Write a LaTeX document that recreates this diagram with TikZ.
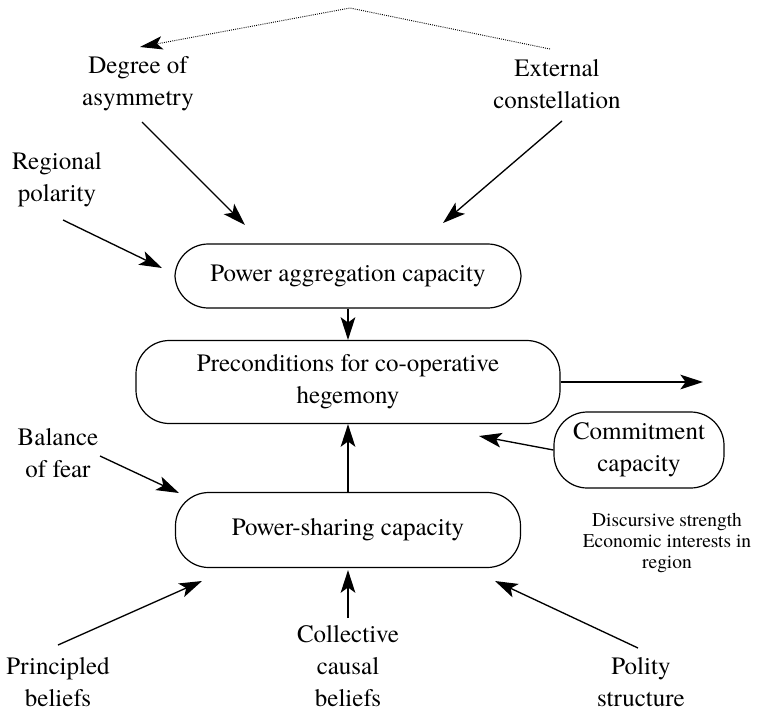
\documentclass[tikz,border=0pt]{standalone}
\usepackage{fontspec}
\setmainfont{texgyretermes-regular.otf}
\usetikzlibrary{arrows.meta}
\newcommand{\bigtxt}{\fontsize{18.75pt}{24pt}\selectfont}
\newcommand{\smalltxt}{\fontsize{14.6pt}{15.75pt}\selectfont}
\tikzset{
	capbox/.style={draw, line width=0.9pt, rounded corners=25pt, align=center, inner sep=0pt, font=\bigtxt},
	factor/.style={align=center, inner sep=0pt, font=\bigtxt},
	arr/.style={line width=1pt, -{Stealth[length=17pt,width=11pt,inset=4pt]}},
	dotarr/.style={line width=0.7pt, dash pattern=on 0.7pt off 0.9pt, -{Stealth[length=17pt,width=10pt,inset=4pt]}}
}
\begin{document}
\begin{tikzpicture}[x=0.75pt, y=-0.75pt]
		%%%%% START %%%%%
		\useasboundingbox (0, 0) rectangle (761, 711);
		
		% boxes
		\node[capbox, minimum width=259.5pt, minimum height=48pt] (aggr) at (348, 276) {Power aggregation capacity};
		\node[capbox, minimum width=318pt, minimum height=62.25pt] (precond) at (348, 382) {Preconditions for co-operative\\hegemony};
		\node[capbox, minimum width=258.75pt, minimum height=56.25pt] (sharing) at (348, 530) {Power-sharing capacity};
		\node[capbox, minimum width=127.5pt, minimum height=57pt] (commit) at (639, 450) {Commitment\\capacity};
		
		% factors
		\node[factor] (degree) at (138, 84) {Degree of\\asymmetry};
		\node[factor] (external) at (557, 84) {External\\constellation};
		\node[factor] (regional) at (57, 180) {Regional\\polarity};
		\node[factor] (balance) at (58, 453) {Balance\\of fear};
		\node[factor] (principled) at (58, 682) {Principled\\beliefs};
		\node[factor] (collective) at (348, 666) {Collective\\causal\\beliefs};
		\node[factor] (polity) at (641, 682) {Polity\\structure};
		\node[align=center, inner sep=0pt, font=\smalltxt] (discursive) at (667, 543) {Discursive strength\\Economic interests in\\region};
		
		\coordinate (apex) at (350, 8);
		\coordinate (exit) at (703, 382);
		
		% dotted link on top
		\draw[dotarr] ([shift={(-7,-35)}]external.center) -- (apex) -- ([shift={(2,-37)}]degree.center);
		
		% into power aggregation
		\draw[arr] ([shift={(4,38)}]degree.center) -- ([shift={(-103,-51)}]aggr.center);
		\draw[arr] ([shift={(5,37)}]external.center) -- ([shift={(95,-53)}]aggr.center);
		\draw[arr] ([shift={(6,40)}]regional.center) -- ([shift={(-186,-8)}]aggr.center);
		
		% middle column
		\draw[arr] (aggr.south) -- (precond.north);
		\draw[arr] (sharing.north) -- (precond.south);
		\draw[arr] (precond.east) -- (exit);
		\draw[arr] (commit.west) -- ([shift={(131,54)}]precond.center);
		
		% into power sharing
		\draw[arr] ([shift={(42,3)}]balance.center) -- ([shift={(-169,-37)}]sharing.center);
		\draw[arr] ([shift={(0,-37)}]principled.center) -- ([shift={(-146,51)}]sharing.center);
		\draw[arr] ([shift={(0,-48)}]collective.center) -- ([shift={(0,2)}]sharing.south);
		\draw[arr] ([shift={(-3,-34)}]polity.center) -- ([shift={(147,51)}]sharing.center);
		
		%%%%% END %%%%%
\end{tikzpicture}
\end{document}
